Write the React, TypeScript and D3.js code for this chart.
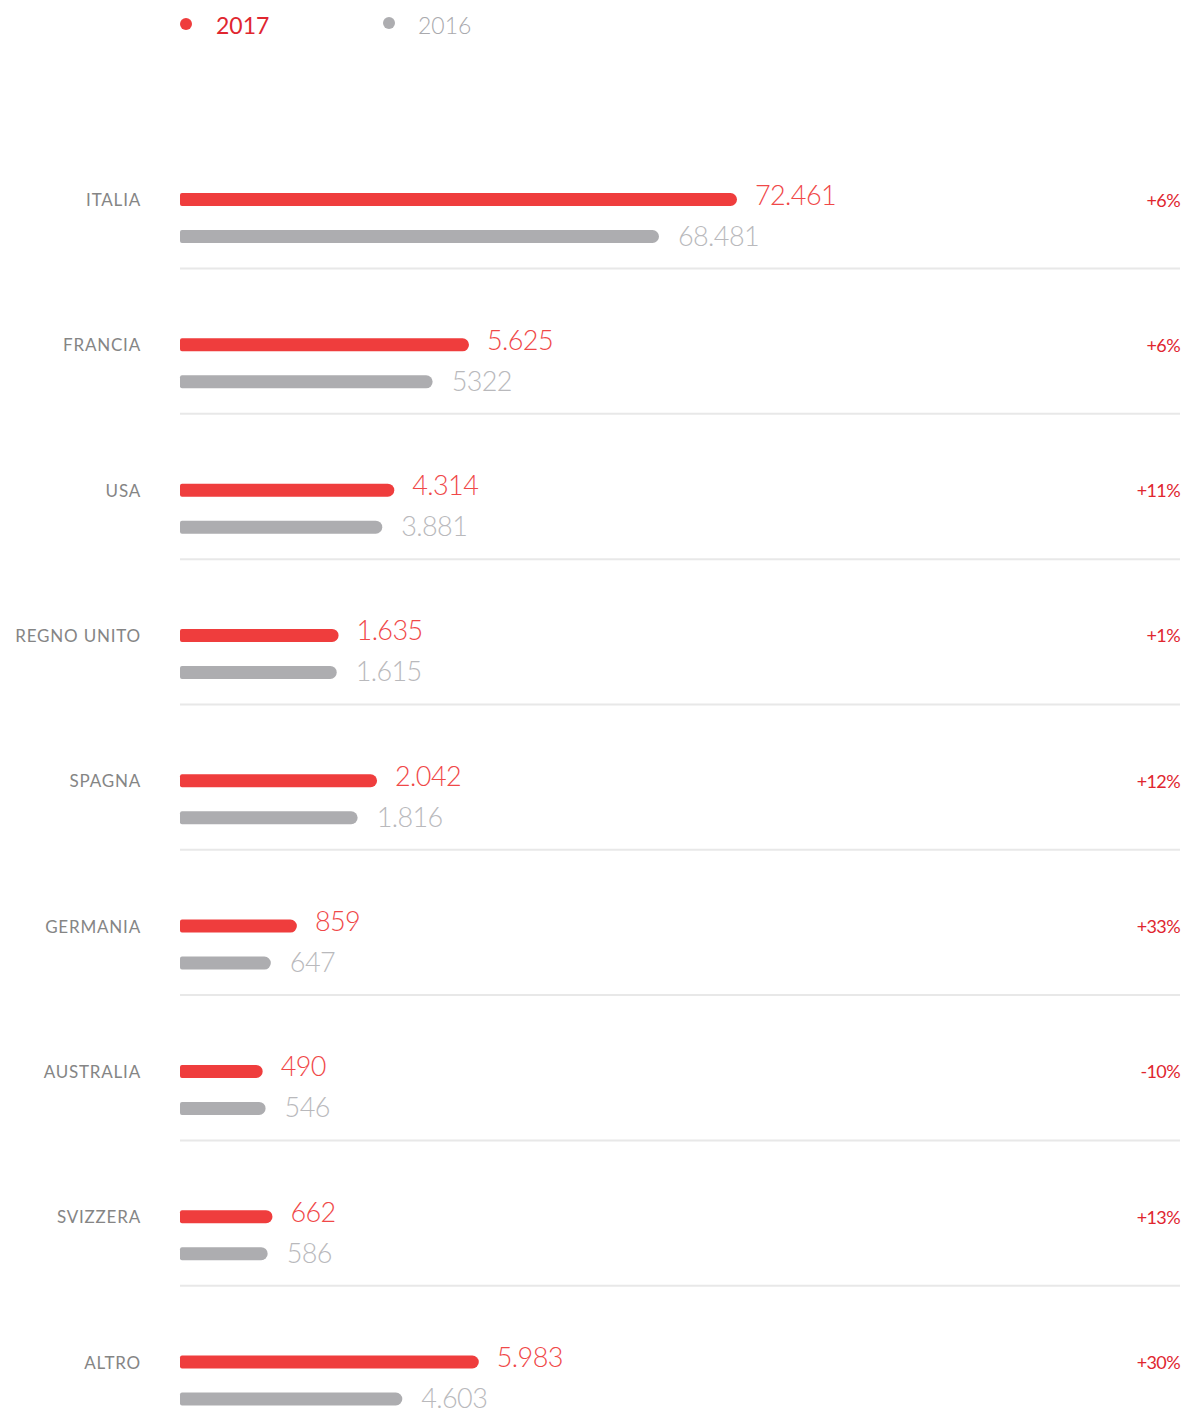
import { useEffect } from "react";
import * as d3 from "d3";

const countries = ["ITALIA", "FRANCIA", "USA", "REGNO UNITO", "SPAGNA", "GERMANIA", "AUSTRALIA", "SVIZZERA", "ALTRO"];
const values2017 = [72461, 5625, 4314, 1635, 2042, 859, 490, 662, 5983];
const values2016 = [68481, 5322, 3881, 1615, 1816, 647, 546, 586, 4603];
const labels2017 = ["72.461", "5.625", "4.314", "1.635", "2.042", "859", "490", "662", "5.983"];
const labels2016 = ["68.481", "5322", "3.881", "1.615", "1.816", "647", "546", "586", "4.603"];
const changes = ["+6%", "+6%", "+11%", "+1%", "+12%", "+33%", "-10%", "+13%", "+30%"];

// the original bars are not to scale: a stepped (polylinear) scale follows them
const lenDomain = [400, 650, 860, 1620, 2000, 3800, 4700, 5300, 5700, 68481, 72461];
const lenRange = [78, 91, 117, 157, 197, 200, 225, 250, 298, 479, 557];

const W = 1182;
const H = 1428;
const RED = "#ef3d3d";
const GREY = "#adadb0";
const FONT = "Lato, 'Open Sans', sans-serif";

const x0 = 180;
const barH = 13;

// bar with small left radius and round right end
function barPath(x: number, y: number, w: number, h: number) {
  const r = h / 2;
  const rl = 2;
  return `M${x + rl},${y}H${x + w - r}A${r},${r} 0 0 1 ${x + w - r},${y + h}H${x + rl}Q${x},${y + h} ${x},${y + h - rl}V${y + rl}Q${x},${y} ${x + rl},${y}Z`;
}

export default function App() {
  useEffect(() => {
    document.body.style.margin = "0";
  }, []);

  const len = d3.scaleLinear().domain(lenDomain).range(lenRange);
  const y = d3.scalePoint<string>().domain(countries).range([199.5, 1362]);
  const gap = 37;

  return (
    <svg width={W} height={H} style={{ display: "block", fontFamily: FONT }}>
      {/* legend */}
      <g>
        <circle cx={186} cy={24} r={6} fill={RED} />
        <text x={216} y={34} fontSize={23} fill="#e0262f">2017</text>
        <circle cx={389} cy={23} r={6} fill={GREY} />
        <text x={418} y={34} fontSize={23} fill="#a9a9ad" fontWeight={300}>2016</text>
      </g>

      {countries.map((c, i) => {
        const cy = y(c)!;
        const w17 = len(values2017[i]);
        const w16 = len(values2016[i]);
        return (
          <g key={c}>
            <text x={141} y={cy + 6.5} textAnchor="end" fontSize={17} fill="#858585" letterSpacing={0.8}>
              {c}
            </text>
            <path d={barPath(x0, cy - barH / 2, w17, barH)} fill={RED} />
            <path d={barPath(x0, cy + gap - barH / 2, w16, barH)} fill={GREY} />
            <text x={x0 + w17 + 18} y={cy + 5} fontSize={27} fill="#f04848" fontWeight={300} letterSpacing={-0.6}>
              {labels2017[i]}
            </text>
            <text x={x0 + w16 + 19} y={cy + gap + 9} fontSize={27} fill="#b9b9bc" fontWeight={300} letterSpacing={-0.6}>
              {labels2016[i]}
            </text>
            <text x={1180} y={cy + 7} textAnchor="end" fontSize={18} fill="#e0262f" letterSpacing={-0.6}>
              {changes[i]}
            </text>
            {i < countries.length - 1 && (
              <line x1={x0} x2={1180} y1={cy + 69} y2={cy + 69} stroke="#e8e8e8" strokeWidth={2} />
            )}
          </g>
        );
      })}
    </svg>
  );
}
